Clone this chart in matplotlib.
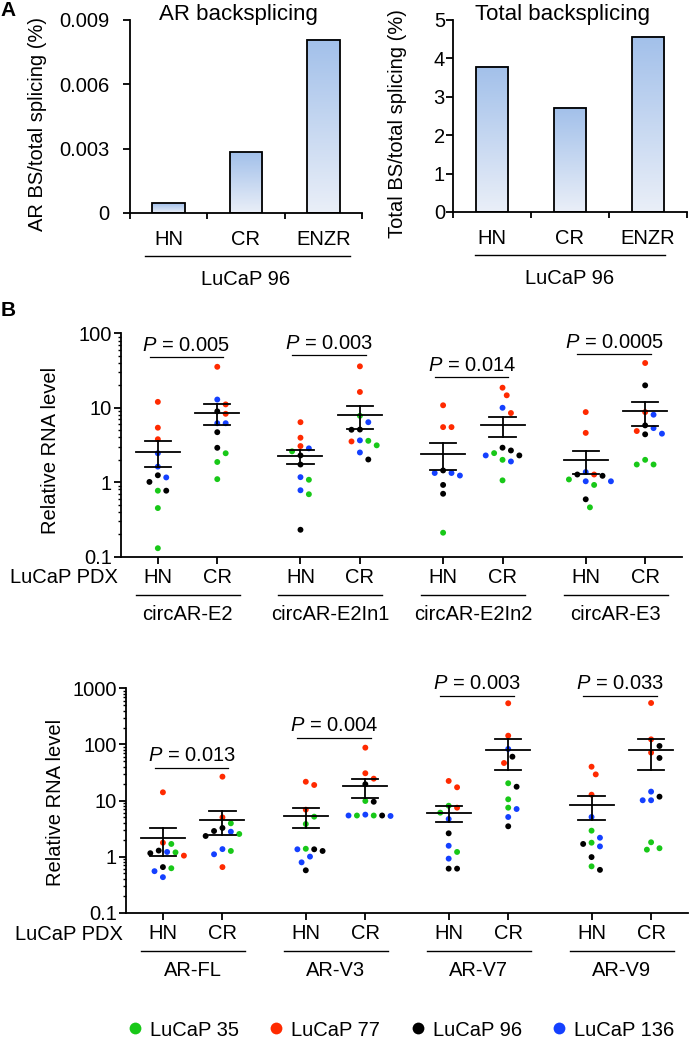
import numpy as np
import matplotlib
matplotlib.use('Agg')
import matplotlib.pyplot as plt
import matplotlib.transforms as mtransforms
from matplotlib.ticker import FixedLocator, FuncFormatter, LogLocator, NullFormatter
from matplotlib.colors import LinearSegmentedColormap
from matplotlib.lines import Line2D

plt.rcParams['font.family'] = ['Liberation Sans', 'DejaVu Sans']
plt.rcParams['mathtext.fontset'] = 'custom'
plt.rcParams['mathtext.it'] = 'Liberation Sans:italic'
plt.rcParams['mathtext.rm'] = 'Liberation Sans'

FS = 14.5
LW = 1.3

# ---- panel A data ----
stages = ['HN', 'CR', 'ENZR']
ar_bs = [0.00045, 0.00284, 0.00807]
total_bs = [3.78, 2.71, 4.56]

# ---- panel B data ----
pdx_lines = ['LuCaP 35', 'LuCaP 77', 'LuCaP 96', 'LuCaP 136']
line_colors = ['#18c818', '#ff2a00', '#000000', '#1440ff']
conditions = ['HN', 'CR']

# rows: LuCaP 35, 77, 96, 136 (three samples each)
circ_names = ['circAR-E2', 'circAR-E2In1', 'circAR-E2In2', 'circAR-E3']
circ_e2_hn = [[0.77, 0.45, 0.13], [12.0, 5.4, 3.78], [1.01, 1.24, 0.77], [2.45, 1.62, 1.16]]
circ_e2_cr = [[2.45, 1.87, 1.1], [35.5, 11.1, 8.3], [8.95, 4.7, 2.9], [12.9, 6.2, 6.2]]
circ_e2in1_hn = [[2.6, 1.08, 0.69], [6.4, 3.96, 3.06], [2.29, 1.73, 0.23], [2.85, 1.17, 0.78]]
circ_e2in1_cr = [[7.8, 3.6, 3.13], [36.0, 16.3, 3.53], [5.07, 5.1, 2.02], [6.4, 3.65, 2.51]]
# two LuCaP 35 samples fall below the axis range
circ_e2in2_hn = [[0.21, 0.02, 0.02], [10.8, 5.5, 5.5], [1.44, 0.92, 0.70], [1.33, 1.23, 1.33]]
circ_e2in2_cr = [[2.46, 2.0, 1.06], [18.6, 14.7, 8.5], [2.67, 2.91, 2.29], [10.0, 2.29, 1.9]]
circ_e3_hn = [[1.09, 0.92, 0.46], [8.75, 4.6, 1.27], [1.22, 1.27, 0.59], [1.37, 1.03, 1.03]]
circ_e3_cr = [[2.0, 1.73, 1.73], [39.9, 8.75, 4.87], [20.0, 5.8, 4.4], [8.07, 5.33, 4.49]]
circ_p = ['0.005', '0.003', '0.014', '0.0005']
circ_p_y = [48, 51, 26, 53]

ar_names = ['AR-FL', 'AR-V3', 'AR-V7', 'AR-V9']
ar_fl_hn = [[1.68, 1.19, 0.62], [14.0, 1.77, 1.04], [1.28, 1.15, 0.65], [1.21, 0.55, 0.43]]
ar_fl_cr = [[3.92, 2.53, 1.26], [26.6, 5.0, 0.65], [3.24, 2.86, 2.33], [2.78, 1.36, 1.1]]
ar_v3_hn = [[5.15, 3.81, 1.38], [21.6, 18.9, 6.86], [1.35, 1.26, 0.57], [1.35, 1.0, 0.79]]
ar_v3_cr = [[9.8, 5.4, 5.4], [87.5, 30.6, 24.5], [19.5, 9.5, 5.4], [5.6, 5.4, 5.3]]
ar_v7_hn = [[8.07, 6.07, 1.21], [22.3, 17.2, 7.45], [2.6, 0.61, 0.61], [4.68, 1.56, 0.92]]
ar_v7_cr = [[20.3, 10.5, 7.45], [541, 143, 46.6], [60.4, 17.6, 3.47], [82.8, 7.05, 5.08]]
ar_v9_hn = [[2.9, 1.77, 0.67], [40.0, 29.2, 12.7], [1.68, 0.98, 0.58], [5.08, 2.17, 1.52]]
ar_v9_cr = [[1.8, 1.41, 1.33], [547, 123, 71.3], [93.7, 57.3, 11.7], [14.4, 10.1, 10.1]]
ar_p = ['0.013', '0.004', '0.003', '0.033']
ar_p_y = [38.5, 132, 738, 740]

circ_data = [(circ_e2_hn, circ_e2_cr), (circ_e2in1_hn, circ_e2in1_cr),
             (circ_e2in2_hn, circ_e2in2_cr), (circ_e3_hn, circ_e3_cr)]
ar_data = [(ar_fl_hn, ar_fl_cr), (ar_v3_hn, ar_v3_cr),
           (ar_v7_hn, ar_v7_cr), (ar_v9_hn, ar_v9_cr)]

fig = plt.figure(figsize=(6.89, 10.4), dpi=100)
W, H = 689.0, 1040.0


def px_axes(x0, x1, ytop, ybot):
    return fig.add_axes([x0 / W, 1 - ybot / H, (x1 - x0) / W, (ybot - ytop) / H])


def clean(ax):
    ax.spines['top'].set_visible(False)
    ax.spines['right'].set_visible(False)
    ax.spines['left'].set_linewidth(LW)
    ax.spines['bottom'].set_linewidth(LW)


bar_cmap = LinearSegmentedColormap.from_list('barfill', ['#eaeff8', '#a2c0ea'])


def bar_panel(ax, vals, ymax, yticks, fmt, title, ylabel, ypad, ylab_x, line_x):
    clean(ax)
    w = 0.42
    grad = np.linspace(0, 1, 256).reshape(-1, 1)
    for i, v in enumerate(vals):
        ax.imshow(grad, extent=[i - w / 2, i + w / 2, 0, v], origin='lower',
                  aspect='auto', cmap=bar_cmap, zorder=1)
    ax.bar(range(len(vals)), vals, width=w, facecolor='none', edgecolor='black',
           linewidth=LW, zorder=2)
    ax.set_xlim(-0.5, len(vals) - 0.5)
    ax.set_ylim(0, ymax)
    ax.set_yticks(yticks)
    ax.yaxis.set_major_formatter(FuncFormatter(fmt))
    ax.tick_params(axis='y', length=5, width=LW, labelsize=FS, pad=ypad)
    ax.set_xticks(np.arange(-0.5, len(vals), 1.0))
    ax.set_xticklabels([])
    ax.set_xticks(range(len(vals)), minor=True)
    ax.set_xticklabels(stages, minor=True)
    ax.tick_params(axis='x', which='major', length=4.5, width=LW)
    ax.tick_params(axis='x', which='minor', length=0, labelsize=FS, pad=12)
    tr = mtransforms.blended_transform_factory(ax.transData, ax.transAxes)
    ax.text(0.9, 1.0, title, transform=tr, ha='center', va='baseline', fontsize=16)
    ax.text(ylab_x, 0.46, ylabel, transform=ax.transAxes, rotation=90,
            ha='center', va='center', fontsize=FS)
    ax.plot(line_x, [-0.223, -0.223], transform=tr, color='black', lw=1.0, clip_on=False)
    ax.text(1.0, -0.347, 'LuCaP 96', transform=tr, ha='center', va='center', fontsize=FS)


axA1 = px_axes(130, 362, 20, 213)
bar_panel(axA1, ar_bs, 0.009, [0, 0.003, 0.006, 0.009],
          lambda v, p: '0' if v == 0 else f'{v:.3f}',
          'AR backsplicing', 'AR BS/total splicing (%)', 9.5, -0.397, [-0.3, 2.35])
axA2 = px_axes(453, 687, 20, 212)
bar_panel(axA2, total_bs, 5, range(6), lambda v, p: f'{v:g}',
          'Total backsplicing', 'Total BS/total splicing (%)', 0.8, -0.239, [-0.22, 2.22])


def swarm_offsets(ax, x0, vals, diam_px, step_px):
    # simple beeswarm in pixel space; returns offsets in data units
    ys = ax.transData.transform(np.column_stack([np.full(len(vals), x0), vals]))[:, 1]
    px_unit = ax.transData.transform((1, 1))[0] - ax.transData.transform((0, 1))[0]
    order = np.argsort(-ys)
    offs = np.zeros(len(vals))
    placed = []
    for i in order:
        for k in [0, 1, -1, 2, -2, 3, -3, 4, -4, 5, -5, 6, -6]:
            x = k * step_px
            if all((x - offs[j]) ** 2 + (ys[i] - ys[j]) ** 2 >= diam_px ** 2 for j in placed):
                offs[i] = x
                break
        placed.append(i)
    return offs / px_unit


def dot_panel(ax, data, names, pvals, pys, ylim, yticks, ylab_y):
    clean(ax)
    ax.set_yscale('log')
    ax.set_xlim(-0.62, 8.82)
    ax.set_ylim(ylim)
    ticks, labels = [], []
    tr = ax.get_xaxis_transform()
    for g, (hn, cr) in enumerate(data):
        base = 2.4 * g
        for c, grp in enumerate([hn, cr]):
            x0 = base + c
            ticks.append(x0)
            labels.append(conditions[c])
            vals = np.concatenate([np.asarray(r, float) for r in grp])
            cols = np.repeat(line_colors, [len(r) for r in grp])
            offs = swarm_offsets(ax, x0, vals, 8.3, 4.2)
            ax.scatter(x0 + offs, vals, s=18, c=cols, linewidths=0, zorder=2)
            m = vals.mean()
            s = vals.std(ddof=1) / np.sqrt(len(vals))
            ax.plot([x0 - 0.37, x0 + 0.37], [m, m], color='black', lw=LW, zorder=3)
            ax.plot([x0, x0], [m - s, m + s], color='black', lw=LW, zorder=3)
            for e in (m - s, m + s):
                ax.plot([x0 - 0.22, x0 + 0.22], [e, e], color='black', lw=LW, zorder=3)
        ax.plot([base - 0.14, base + 1.1], [pys[g], pys[g]], color='black', lw=0.9)
        ax.annotate(r'$\it{P}$ = ' + pvals[g], (base + 0.48, pys[g]), xytext=(0, 4.5),
                    textcoords='offset points', ha='center', va='baseline', fontsize=FS)
        ax.plot([base - 0.37, base + 1.38], [-0.17, -0.17], transform=tr,
                color='black', lw=1.0, clip_on=False)
        ax.text(base + 0.5, -0.258, names[g], transform=tr, ha='center', va='center',
                fontsize=FS)
    ax.set_xticks(ticks)
    ax.set_xticklabels(labels)
    ax.yaxis.set_major_locator(FixedLocator(yticks))
    ax.yaxis.set_major_formatter(FuncFormatter(lambda v, p: f'{v:g}'))
    ax.yaxis.set_minor_locator(LogLocator(base=10, subs=np.arange(2, 10)))
    ax.yaxis.set_minor_formatter(NullFormatter())
    ax.tick_params(axis='y', which='major', length=5, width=LW, labelsize=FS, pad=1.5)
    ax.tick_params(axis='y', which='minor', length=2.5, width=1.0)
    ax.tick_params(axis='x', length=5, width=LW, labelsize=FS, pad=3)
    ax.text(-0.006, -0.095, 'LuCaP PDX', transform=ax.transAxes, ha='right',
            va='center', fontsize=FS)
    ax.text(-0.125, ylab_y, 'Relative RNA level', transform=ax.transAxes, rotation=90,
            ha='center', va='center', fontsize=FS)


axB1 = px_axes(121, 682, 333.3, 556.7)
dot_panel(axB1, circ_data, circ_names, circ_p, circ_p_y, (0.1, 100), [0.1, 1, 10, 100], 0.474)
axB2 = px_axes(126, 688, 688.3, 912.7)
dot_panel(axB2, ar_data, ar_names, ar_p, ar_p_y, (0.1, 1000), [0.1, 1, 10, 100, 1000], 0.493)

fig.text(0.001, 1 - 11 / H, 'A', fontsize=15, fontweight='bold', ha='left', va='center')
fig.text(0.001, 1 - 311 / H, 'B', fontsize=15, fontweight='bold', ha='left', va='center')

handles = [Line2D([], [], ls='none', marker='o', ms=8.5, mfc=c, mec='none') for c in line_colors]
fig.legend(handles, pdx_lines, loc='center', bbox_to_anchor=(0.583, 1 - 1030 / H),
           ncol=4, frameon=False, fontsize=FS, handlelength=0.6, handletextpad=0.45,
           columnspacing=1.55, borderpad=0, borderaxespad=0)

fig.savefig('out.png', dpi=100)
